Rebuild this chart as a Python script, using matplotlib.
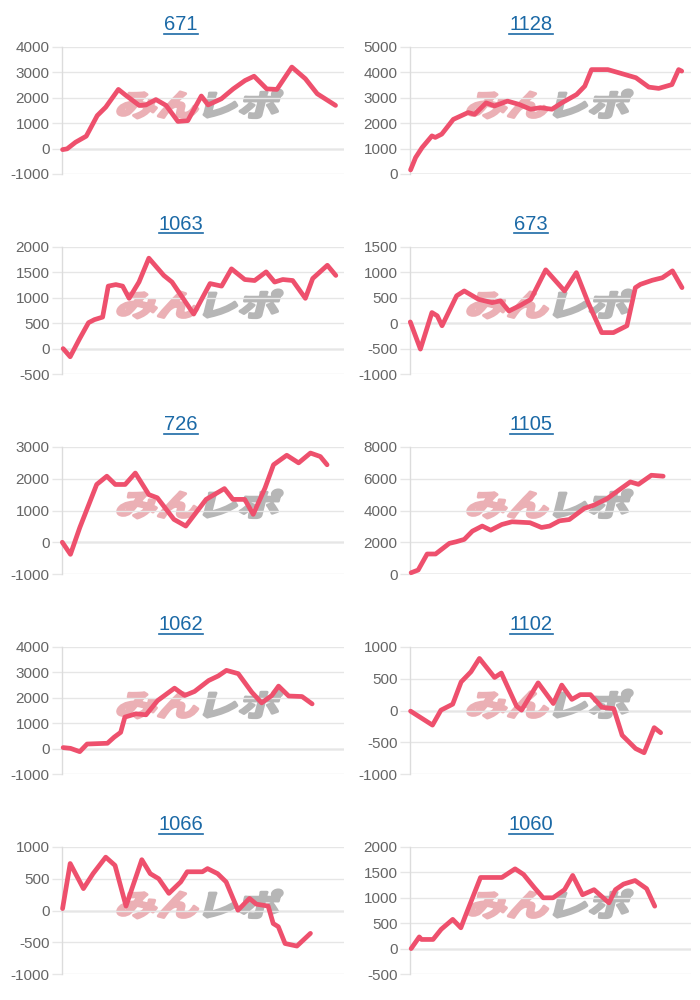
import matplotlib
matplotlib.use('Agg')
import matplotlib.pyplot as plt
from matplotlib.textpath import TextPath
from matplotlib.patches import PathPatch
from matplotlib.font_manager import FontProperties
from matplotlib.transforms import Affine2D, Bbox
from matplotlib.lines import Line2D

plt.rcParams['font.family'] = ['Liberation Sans', 'DejaVu Sans']
plt.rcParams['axes.unicode_minus'] = False

# machine numbers shown as chart titles
titles = ['671', '1128', '1063', '673', '726', '1105', '1062', '1102', '1066', '1060']

# x = position along the day axis (percent), y = medal difference
x_671 = [0.2, 1.8, 4.8, 8.6, 12.5, 15.5, 20.0, 22.6, 27.4, 29.8, 33.3, 36.9, 41.1, 44.6,
         49.4, 51.8, 56.5, 60.7, 64.9, 68.1, 72.6, 76.2, 81.5, 86.3, 90.5, 97.0]
y_671 = [-40, -10, 250, 490, 1300, 1630, 2330, 2100, 1700, 1720, 1930, 1700, 1070, 1100,
         2070, 1720, 1960, 2350, 2680, 2850, 2350, 2330, 3210, 2750, 2160, 1700]

x_1128 = [0.2, 2.0, 4.3, 7.8, 9.0, 11.3, 15.4, 20.7, 23.0, 27.1, 30.1, 34.7, 38.8, 42.9,
          46.4, 50.5, 54.0, 59.3, 62.2, 64.6, 70.4, 74.5, 80.4, 85.0, 88.5, 93.2, 95.6, 96.7]
y_1128 = [160, 650, 1040, 1500, 1440, 1570, 2150, 2420, 2350, 2800, 2680, 2870, 2740, 2550,
          2610, 2550, 2800, 3130, 3460, 4110, 4110, 3980, 3790, 3420, 3370, 3520, 4110, 4050]

x_1063 = [0.4, 2.9, 6.2, 9.4, 11.5, 14.4, 16.4, 19.1, 21.5, 23.8, 27.3, 30.8, 36.1, 39.0,
          46.7, 52.5, 56.6, 60.1, 64.8, 68.3, 72.4, 75.4, 78.3, 81.8, 86.3, 88.9, 94.1, 97.1]
y_1063 = [0, -160, 190, 510, 570, 620, 1230, 1260, 1230, 990, 1310, 1780, 1440, 1310,
          680, 1280, 1230, 1570, 1360, 1340, 1510, 1310, 1360, 1340, 990, 1380, 1640, 1440]

x_673 = [0.1, 3.7, 7.8, 9.7, 11.4, 16.6, 19.3, 24.4, 29.2, 32.2, 35.2, 39.4, 43.0, 48.3,
         55.0, 59.2, 63.4, 68.2, 72.4, 77.2, 80.2, 82.0, 86.2, 89.8, 93.4, 96.8]
y_673 = [25, -510, 210, 145, -50, 540, 635, 470, 405, 440, 240, 355, 470, 1050,
         635, 995, 405, -185, -185, -50, 700, 765, 845, 895, 1030, 700]

x_726 = [0.1, 3.0, 6.3, 12.3, 15.9, 18.9, 22.4, 26.0, 30.8, 33.8, 39.7, 43.9, 51.1, 57.6,
         60.6, 64.8, 67.8, 72.0, 75.0, 79.7, 83.9, 88.1, 91.6, 94.0]
y_726 = [0, -380, 460, 1820, 2080, 1820, 1820, 2180, 1500, 1400, 720, 510, 1350, 1690,
         1350, 1350, 880, 1710, 2440, 2740, 2500, 2810, 2700, 2440]

x_1105 = [0.4, 2.9, 6.1, 9.1, 14.0, 16.4, 19.3, 22.2, 25.7, 28.7, 32.7, 36.3, 42.7, 46.8,
          49.7, 53.2, 56.7, 62.0, 65.5, 70.2, 74.3, 78.4, 81.3, 85.9, 90.1]
y_1105 = [80, 250, 1260, 1260, 1930, 2030, 2180, 2700, 3020, 2760, 3120, 3290, 3230, 2930,
          3020, 3350, 3430, 4130, 4340, 4750, 5280, 5800, 5650, 6220, 6160]

x_1062 = [0.4, 3.0, 6.3, 8.9, 16.1, 18.5, 20.8, 22.3, 26.2, 29.8, 33.9, 39.9, 43.5, 47.0,
          52.0, 55.4, 58.3, 62.5, 67.3, 70.8, 74.4, 76.8, 80.4, 85.1, 88.7]
y_1062 = [40, 10, -120, 180, 210, 450, 640, 1240, 1370, 1330, 1890, 2380, 2090, 2250,
          2680, 2860, 3080, 2950, 2220, 1800, 2090, 2460, 2070, 2050, 1760]

x_1102 = [0.2, 8.0, 11.0, 15.2, 18.2, 21.7, 24.7, 30.1, 32.5, 37.9, 39.7, 45.6, 51.0, 54.0,
          57.6, 60.6, 64.2, 68.3, 72.5, 75.5, 80.3, 83.3, 86.9, 89.2]
y_1102 = [-10, -230, 5, 100, 450, 610, 820, 520, 590, 70, 5, 435, 110, 400,
          175, 250, 250, 50, 30, -390, -600, -665, -270, -350]

x_1066 = [0.2, 2.9, 7.6, 11.0, 15.5, 18.8, 22.7, 28.3, 31.3, 34.3, 37.9, 42.1, 44.4, 49.8,
          51.6, 55.2, 58.2, 62.4, 66.5, 68.9, 73.1, 74.9, 76.7, 79.1, 83.3, 88.1]
y_1066 = [30, 740, 345, 580, 840, 710, 70, 800, 580, 500, 270, 450, 610, 610,
          660, 580, 450, 5, 190, 100, 70, -205, -255, -520, -560, -360]

x_1060 = [0.4, 2.3, 3.3, 4.1, 8.2, 11.1, 15.2, 18.1, 19.9, 25.1, 32.7, 37.4, 40.4, 44.4,
          47.4, 50.9, 55.0, 57.9, 61.4, 65.5, 70.8, 73.1, 76.0, 80.1, 84.2, 87.1]
y_1060 = [0, 150, 230, 180, 180, 380, 575, 410, 670, 1400, 1400, 1570, 1460, 1190,
          1000, 1000, 1160, 1440, 1060, 1160, 900, 1160, 1270, 1340, 1180, 835]

xs = [x_671, x_1128, x_1063, x_673, x_726, x_1105, x_1062, x_1102, x_1066, x_1060]
ys = [y_671, y_1128, y_1063, y_673, y_726, y_1105, y_1062, y_1102, y_1066, y_1060]

# y axis range and step for each chart
y_min = [-1000, 0, -500, -1000, -1000, 0, -1000, -1000, -1000, -500]
y_max = [4000, 5000, 2000, 1500, 3000, 8000, 4000, 1000, 1000, 2000]
y_step = [1000, 1000, 500, 500, 1000, 2000, 1000, 500, 500, 500]

line_color = '#ee506d'
grid_color = '#e6e6e6'
W, H = 700, 1000

fig = plt.figure(figsize=(7, 10), dpi=100)

# watermark paths ("みんレポ" logo)
wm_font = FontProperties(family='Noto Sans CJK JP', weight='bold')
pink_path = TextPath((0, 0), 'みん', size=40, prop=wm_font)
gray_path = TextPath((78, 0), 'レポ', size=40, prop=wm_font)
ext = Bbox.union([pink_path.get_extents(), gray_path.get_extents()])

title_texts = []
for i in range(10):
    row, col = i // 2, i % 2
    left = 62 if col == 0 else 410
    right = 344 if col == 0 else 691
    top = 200 * row + 47
    bottom = 200 * row + 174
    ax = fig.add_axes([left / W, 1 - bottom / H, (right - left) / W, (bottom - top) / H])
    ax.set_facecolor('none')

    ax.plot(xs[i], ys[i], color=line_color, lw=3.4, solid_joinstyle='round',
            solid_capstyle='round', zorder=3, clip_on=False)

    ax.set_xlim(0, 100)
    ax.set_ylim(y_min[i], y_max[i])
    ax.set_yticks(range(y_min[i], y_max[i] + 1, y_step[i]))
    ax.set_xticks([])
    ax.grid(axis='y', color=grid_color, lw=1, zorder=0)
    ax.axhline(0, color='#b5b5b5', lw=1, zorder=1)
    ax.tick_params(axis='y', length=7, width=1, color=grid_color, pad=2,
                   labelsize=11, labelcolor='#666666')
    for s in ['top', 'right', 'bottom']:
        ax.spines[s].set_visible(False)
    ax.spines['left'].set_color('#dcdcdc')
    ax.spines['left'].set_linewidth(1)

    # watermark, placed in pixel coordinates
    cx = 200 + 350 * col
    cy = H - (200 * row + 104)
    sx = 160 / ext.width
    sy = 28 / ext.height
    tr = (Affine2D().translate(-ext.x0, -ext.y0).scale(sx, sy).skew_deg(14, 0)
          .translate(cx - 84, cy - 14))
    for p, c in [(pink_path, '#ebb0b5'), (gray_path, '#b6b6b6')]:
        patch = PathPatch(p, transform=tr, facecolor=c, edgecolor=c, lw=2.2,
                          joinstyle='round', zorder=1.5)
        ax.add_artist(patch)

    t = fig.text((181 + 350 * col) / W, 1 - (200 * row + 25) / H, titles[i],
                 ha='center', va='center', fontsize=14.5, color='#1b69a6')
    title_texts.append(t)

# underline the titles like links
fig.canvas.draw()
inv = fig.transFigure.inverted()
for t in title_texts:
    bb = t.get_window_extent()
    (x0, y0), (x1, _) = inv.transform([[bb.x0, bb.y0 + 1], [bb.x1, bb.y0 + 1]])
    fig.add_artist(Line2D([x0, x1], [y0, y0], color='#1b69a6', lw=1.2))

fig.savefig('out.png', dpi=100)
